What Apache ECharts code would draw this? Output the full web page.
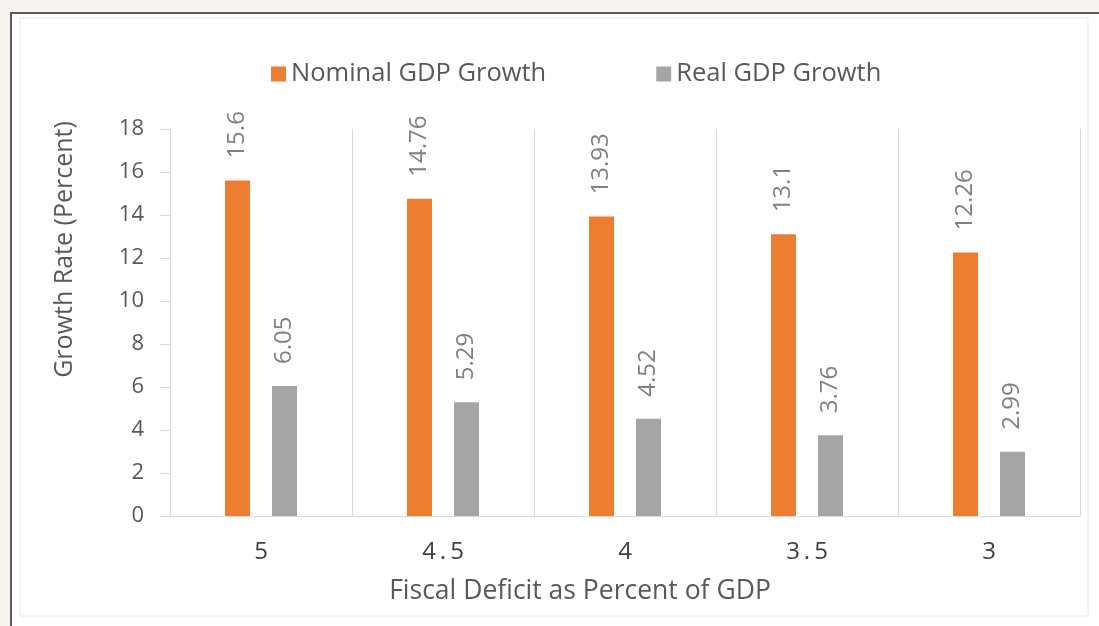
<!DOCTYPE html>
<html><head><meta charset="utf-8">
<script src="https://cdn.jsdelivr.net/npm/echarts@6/dist/echarts.min.js"></script>
<style>html,body{margin:0;padding:0;background:#f7f3ee;}#c{width:1099px;height:626px;}</style>
</head><body><div id="c"></div>
<script>
const categories = ['5', '4.5', '4', '3.5', '3'];
const nominal = [15.6, 14.76, 13.93, 13.1, 12.26];
const real = [6.05, 5.29, 4.52, 3.76, 2.99];
const seriesNames = ['Nominal GDP Growth', 'Real GDP Growth'];
const yTicks = {min: 0, max: 18, interval: 2};

const FONT = 'Open Sans';
const chart = echarts.init(document.getElementById('c'), null, {renderer: 'canvas'});
const labelCfg = {
  show: true, position: 'top', rotate: 90, align: 'left', verticalAlign: 'middle',
  distance: 22, color: '#808080', fontSize: 24, fontFamily: FONT
};
chart.setOption({
  backgroundColor: '#f7f3ee',
  animation: false,
  graphic: [
    {type: 'rect', z: -10, shape: {x: 11, y: 13, width: 1100, height: 620},
     style: {fill: '#ffffff', stroke: '#5a5a5a', lineWidth: 2}},
    {type: 'rect', z: -9, shape: {x: 20, y: 18, width: 1068, height: 598},
     style: {fill: '#ffffff', stroke: '#e6e6e6', lineWidth: 1}}
  ],
  legend: {
    top: 56, left: 266, itemWidth: 15, itemHeight: 15, itemGap: 110, icon: 'rect',
    textStyle: {fontSize: 25.5, color: '#595959', fontFamily: FONT},
    data: seriesNames
  },
  grid: {left: 170, right: 19, top: 129, bottom: 110},
  xAxis: {
    type: 'category', data: categories,
    axisLine: {show: true, lineStyle: {color: '#d9d9d9', width: 1}},
    axisTick: {show: false},
    splitLine: {show: true, lineStyle: {color: '#d9d9d9', width: 1}},
    axisLabel: {fontSize: 24, color: '#404040', fontFamily: FONT, margin: 24,
      formatter: v => v.split('').join('\u2009')},
    name: 'Fiscal Deficit as Percent of GDP', nameLocation: 'middle', nameGap: 62,
    nameTextStyle: {fontSize: 26.5, color: '#595959', fontFamily: FONT, padding: [0, 0, 0, -90]}
  },
  yAxis: {
    type: 'value', min: yTicks.min, max: yTicks.max, interval: yTicks.interval,
    axisLine: {show: true, lineStyle: {color: '#d9d9d9', width: 1}},
    axisTick: {show: true, length: 10, lineStyle: {color: '#d9d9d9'}},
    splitLine: {show: false},
    axisLabel: {fontSize: 22, color: '#595959', fontFamily: FONT, margin: 26},
    name: 'Growth Rate (Percent)', nameLocation: 'middle', nameGap: 93,
    nameTextStyle: {fontSize: 25, color: '#595959', fontFamily: FONT, padding: [0, 0, 0, 146]}
  },
  series: [
    {name: seriesNames[0], type: 'bar', data: nominal, barWidth: 25, barGap: '88%',
     itemStyle: {color: '#ed7d31'}, label: labelCfg},
    {name: seriesNames[1], type: 'bar', data: real, barWidth: 25,
     itemStyle: {color: '#a5a5a5'}, label: labelCfg}
  ]
});
</script></body></html>
